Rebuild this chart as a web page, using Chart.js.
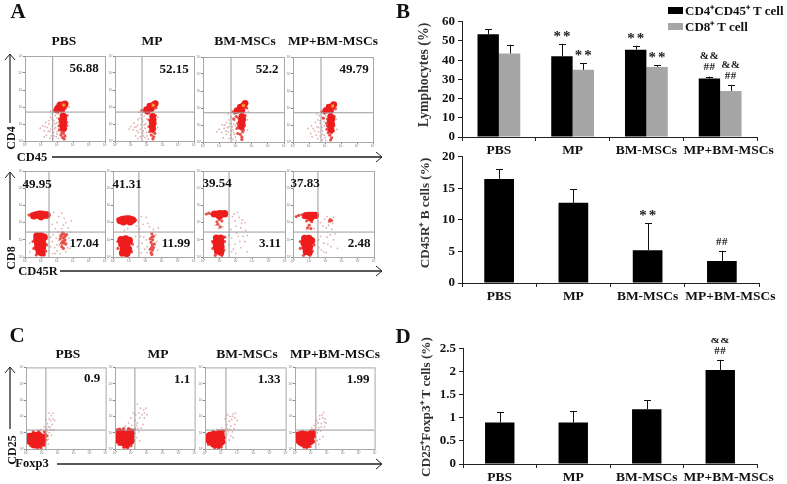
<!DOCTYPE html>
<html>
<head>
<meta charset="utf-8">
<script src="https://cdn.jsdelivr.net/npm/chart.js@4"></script>
<style>
html, body { margin: 0; padding: 0; background: #fff; }
#fig { position: relative; width: 787px; height: 484px; overflow: hidden; font-family: "Liberation Serif", serif; font-weight: bold; color: #111; filter: blur(0.35px); }
#fig canvas { position: absolute; }
#fig svg { position: absolute; left: 0; top: 0; }
.t { position: absolute; white-space: nowrap; transform: translate(-50%, -50%); line-height: 1; }
.v { transform: translate(-50%, -50%) rotate(-90deg); }
.box { position: absolute; }
</style>
</head>
<body>
<div id="fig"></div>
<script>
// bar chart data
var groups = ['PBS', 'MP', 'BM-MSCs', 'MP+BM-MSCs'];
var cd4Values = [53.5, 42, 45.5, 30.5];
var cd4Tops = [56, 48.5, 47.5, 31.5];
var cd8Values = [43.5, 35, 36.5, 24];
var cd8Tops = [48, 38.5, 37.5, 27];
var cd4Marks = [[], ['**'], ['**'], ['##', '&&']];
var cd8Marks = [[], ['**'], ['**'], ['##', '&&']];
var bValues = [16.5, 12.7, 5.2, 3.5];
var bTops = [18, 14.9, 9.5, 5.1];
var bMarks = [[], [], ['**'], ['##']];
var tregValues = [0.9, 0.9, 1.19, 2.04];
var tregTops = [1.12, 1.14, 1.38, 2.26];
var tregMarks = [[], [], [], ['##', '&&']];

// percentages printed in the flow plots
var cd4Pct = ['56.88', '52.15', '52.2', '49.79'];
var cd8Pct = ['49.95', '41.31', '39.54', '37.83'];
var cd45rPct = ['17.04', '11.99', '3.11', '2.48'];
var cd25Pct = ['0.9', '1.1', '1.33', '1.99'];

// flow plots, log decades
var a1Core = [[2.06,1.94],[2.19,2.12],[2.38,2.12],[2.5,2.18],[2.31,1.88],[2.0,1.82],[2.38,1.47],[2.42,1.3],[2.34,1.2],[2.4,1.05],[2.36,.9],[2.4,.75]];
var a1Mid = [[1.85,1.8],[2.55,1.95],[2.45,.6],[2.4,.45],[2.5,.3],[2.3,.5],[2.15,1.3],[2.6,1.5],[2.15,.9],[2.6,1.1],[2.35,.2],[2.45,.12],[2.15,.65],[2.55,.7],[2.2,1.1],[2.58,.9],[2.25,.35]];
var a1Dust = [[1.7,1.6],[1.6,1.4],[1.9,1.5],[1.5,1.2],[1.3,1.1],[1.8,1.2],[2.0,1.35],[1.1,.9],[1.4,.8],[1.7,.9],[1.9,.8],[1.2,.6],[1.55,.55],[1.8,.5],[2.0,.55],[1.65,.3],[1.95,.25],[2.1,.15],[1.35,.35],[.95,.75],[1.75,.12],[2.7,.9],[2.7,1.5],[2.75,2.0],[1.6,1.75],[2.1,1.6],[1.5,1.0],[1.85,1.0],[2.05,1.1],[1.25,.85],[1.45,.6],[1.6,.7],[1.85,.7],[1.95,1.05],[1.7,1.3],[1.55,.15],[1.2,.25],[1.8,.3],[2.0,.4],[2.05,.85]];
var a2Core = [[2.0,1.85],[2.2,2.05],[2.4,2.1],[2.55,2.2],[2.3,1.9],[2.05,1.75],[2.38,1.45],[2.42,1.25],[2.35,1.15],[2.4,1.0],[2.36,.85],[2.38,.7]];
var a2Mid = [[1.8,1.75],[1.7,1.8],[2.6,1.95],[2.4,.55],[2.3,.35],[2.45,.25],[2.15,1.25],[2.55,1.5],[2.15,.85],[2.55,1.05],[2.4,.12],[2.2,.55],[2.5,.75],[2.25,1.05],[2.52,.45]];
var a2Dust = [[1.65,1.55],[1.55,1.35],[1.85,1.45],[1.45,1.25],[1.2,1.05],[1.75,1.15],[2.0,1.3],[1.0,.85],[1.35,.85],[1.65,.95],[1.9,.75],[1.15,.65],[1.5,.5],[1.75,.45],[2.0,.5],[1.6,.25],[1.9,.2],[2.1,.12],[1.3,.3],[.9,.7],[2.7,.8],[2.72,1.4],[1.5,1.7],[2.05,1.55],[1.45,.95],[1.85,.95],[1.25,.8],[1.4,.6],[1.6,.7],[1.8,.6],[1.95,1.0],[1.7,1.3],[1.45,.15],[1.8,.3],[2.02,.3]];
var a3Core = [[2.1,1.85],[2.3,2.05],[2.5,2.15],[2.6,2.28],[2.4,1.85],[2.4,1.5],[2.46,1.32],[2.36,1.22],[2.42,1.05],[2.36,.9]];
var a3Mid = [[1.85,1.78],[1.95,1.7],[2.7,2.0],[2.38,.75],[2.45,.6],[2.3,.45],[2.4,.3],[2.15,1.1],[2.6,1.55],[2.1,.8],[2.55,.95],[2.4,.15],[2.15,.5],[2.5,.7],[1.9,1.35],[2.2,1.4],[2.2,.95],[2.05,1.5]];
var a3Dust = [[1.7,1.5],[1.6,1.3],[1.8,1.4],[1.45,1.15],[1.2,1.0],[1.75,1.1],[1.95,1.25],[1.0,.75],[1.3,.8],[1.6,.9],[1.85,.7],[1.15,.55],[1.45,.45],[1.7,.4],[1.95,.45],[1.6,.2],[1.85,.15],[2.05,.08],[1.25,.25],[.85,.6],[2.75,.7],[2.75,1.3],[2.8,1.8],[1.55,1.65],[2.1,1.5],[1.5,.85],[1.8,.9],[1.75,.65],[2.0,.95],[1.4,.65],[1.55,.6],[1.9,.55],[2.0,.3],[1.75,.25],[1.35,1.0],[1.9,1.05],[1.65,1.1]];
var a4Core = [[2.05,1.85],[2.25,2.05],[2.45,2.1],[2.55,2.2],[2.35,1.85],[2.35,1.5],[2.44,1.35],[2.33,1.2],[2.42,1.05],[2.34,.9],[2.38,.72]];
var a4Mid = [[1.8,1.78],[1.95,1.7],[2.65,1.95],[2.4,.55],[2.3,.4],[2.42,.25],[2.1,1.1],[2.58,1.5],[2.12,.75],[2.55,.95],[2.35,.12],[2.2,.55],[2.52,.65],[1.9,1.4],[2.15,1.35],[2.15,.95]];
var a4Dust = [[1.65,1.55],[1.55,1.3],[1.8,1.45],[1.4,1.15],[1.15,.95],[1.7,1.1],[1.95,1.2],[.95,.8],[1.25,.8],[1.6,.85],[1.85,.65],[1.1,.5],[1.45,.4],[1.7,.35],[1.95,.4],[1.55,.2],[1.85,.12],[2.05,.1],[1.2,.3],[2.75,.75],[2.72,1.35],[1.5,1.65],[2.05,1.55],[1.5,.9],[1.8,.85],[1.35,.65],[1.6,.6],[1.85,.45],[2.0,.25],[1.95,.95],[1.7,1.25]];
var hotSpots = [[2.42,2.12],[2.42,2.1],[2.5,2.15],[2.48,2.12]];

var b1Core = [[.56,2.4],[.69,2.44],[.88,2.48],[1.06,2.48],[1.25,2.44],[1.36,2.44],[1.0,2.35],[.75,1.22],[1.0,1.22],[1.19,1.15],[.75,1.0],[1.05,1.0],[.8,.78],[1.1,.78],[.8,.55],[1.08,.55],[.9,.32],[1.05,.25]];
var b1Mid = [[.25,2.44],[.38,2.5],[.44,2.33],[1.5,2.45],[2.3,1.3],[2.4,1.1],[2.5,1.2],[2.35,.9],[2.45,.8],[2.3,.6],[2.5,1.0],[2.2,1.05],[2.4,.5],[2.6,1.3],[2.35,1.4],[2.45,.95],[.5,.9],[1.35,.7],[.55,.5],[1.3,.35],[.7,.12],[1.2,.12],[2.28,.8],[2.55,.75],[2.42,1.35],[2.25,1.2]];
var b1Dust = [[1.7,.9],[1.85,.55],[1.95,1.1],[2.0,.35],[2.15,.7],[2.15,1.3],[2.6,.8],[2.75,1.1],[2.8,.5],[2.55,.3],[2.2,.2],[1.75,.2],[1.75,1.3],[2.0,2.0],[2.1,2.35],[2.3,2.55],[2.55,2.0],[2.7,1.7],[1.8,2.6],[2.4,1.85],[1.9,1.65],[2.3,1.65],[2.85,1.45],[2.9,2.1],[.3,.8],[.3,.3],[1.6,.6],[1.6,1.15],[2.0,.7],[2.1,.95],[1.9,.2],[2.65,.55],[2.05,1.45],[2.45,2.25],[1.7,1.9]];
var b2Core = [[.45,2.12],[.6,2.18],[.8,2.2],[1.0,2.2],[1.2,2.15],[.65,2.05],[1.05,2.05],[.5,1.0],[.78,1.05],[1.0,.95],[.55,.75],[.85,.72],[.65,.48],[.95,.45],[.85,.22],[.6,.25]];
var b2Mid = [[.3,2.2],[.35,2.05],[1.4,2.15],[.3,.9],[1.2,.75],[.3,.5],[1.15,.3],[.5,.12],[2.4,1.35],[2.4,1.15],[2.45,1.0],[2.35,.85],[2.42,.7],[2.38,.55],[2.45,.4],[2.35,.25],[2.5,1.2],[2.3,1.05],[2.55,.75],[2.3,.45],[2.5,.55],[2.4,.15]];
var b2Dust = [[1.7,1.2],[1.8,.8],[1.95,.45],[2.05,1.0],[2.1,.25],[2.7,.9],[2.75,.4],[2.65,1.3],[1.75,.25],[1.65,1.65],[1.85,1.9],[2.05,2.3],[2.25,1.75],[2.5,1.6],[1.5,.6],[1.4,1.2],[1.55,2.05],[2.8,1.7],[.9,1.65],[.7,1.55],[1.9,1.15],[2.1,.6],[1.75,2.35],[2.15,1.95],[1.45,1.8]];
var b3Core = [[.7,2.5],[.9,2.5],[1.05,2.52],[1.2,2.5],[1.32,2.52],[1.0,2.38],[.82,1.1],[1.08,1.1],[.78,.85],[1.08,.85],[.82,.6],[1.1,.6],[.88,.35],[1.08,.28]];
var b3Mid = [[.2,2.5],[.35,2.55],[.5,2.5],[.6,2.42],[1.4,2.4],[1.0,2.18],[.85,2.05],[1.15,2.1],[.58,.9],[1.32,.9],[.6,.5],[1.28,.4],[.75,.1],[1.15,.1],[1.32,1.15],[.9,1.9],[1.05,1.75]];
var b3Dust = [[1.8,2.35],[1.95,2.1],[2.2,2.3],[2.4,2.15],[2.55,2.0],[2.0,1.8],[2.3,1.7],[1.7,1.6],[2.6,1.55],[1.75,1.1],[1.95,.75],[2.15,1.2],[2.3,.55],[2.55,.9],[2.7,.3],[1.75,.3],[2.0,.2],[.95,1.65],[1.2,1.75],[.75,1.85],[1.85,.45],[2.45,1.2],[2.1,2.6],[2.7,1.25],[2.25,.9],[1.6,.7],[2.05,1.4],[2.35,1.95],[1.9,2.5],[1.6,1.25]];
var b4Core = [[.8,2.4],[.95,2.42],[1.1,2.42],[1.25,2.42],[1.38,2.42],[1.1,2.28],[.72,1.08],[.98,1.08],[.68,.82],[.98,.82],[1.15,.95],[.75,.58],[1.02,.58],[.82,.32],[1.0,.28]];
var b4Mid = [[.2,2.35],[.35,2.42],[.55,2.45],[.65,2.3],[.85,2.1],[1.15,2.05],[1.0,1.85],[.45,.9],[1.3,.7],[.45,.5],[1.2,.35],[.65,.1],[1.05,.1],[2.3,2.18],[2.38,2.12],[2.25,2.08],[.9,1.7],[1.1,1.65]];
var b4Dust = [[1.7,2.0],[1.85,1.8],[2.05,1.7],[2.2,1.85],[2.5,2.3],[2.1,2.35],[2.4,1.6],[1.7,1.2],[1.9,.8],[2.1,1.15],[2.35,.6],[2.5,1.0],[1.75,.4],[2.05,.25],[1.3,1.65],[.85,1.6],[1.9,.3],[2.3,1.3],[2.6,1.35],[2.75,.5],[1.6,.55],[2.15,.75],[1.6,1.0],[2.45,1.95],[1.95,2.2]];

var c1Core = [[.28,.5],[.28,.72],[.52,.3],[.52,.52],[.52,.78],[.78,.3],[.78,.55],[.78,.8],[.98,.42],[.98,.68]];
var c1Mid = [[.07,.4],[.07,.7],[.12,.9],[.45,1.05],[.8,1.08],[1.22,.9],[1.25,.55],[.3,.2],[.7,.08],[.95,.08],[1.15,.22],[1.32,.8],[1.15,1.05]];
var c1Dust = [[1.3,1.2],[1.4,.6],[1.45,1.0],[1.5,1.35],[1.35,1.55],[1.55,1.75],[1.65,1.5],[1.45,1.85],[1.6,2.05],[1.7,2.2],[1.25,1.8],[1.75,1.15],[1.6,.85],[1.4,.3],[1.8,1.75],[1.15,1.35],[.95,1.2],[1.4,1.35],[1.55,1.2],[1.45,2.2],[1.7,1.85],[1.3,1.05]];
var c2Core = [[.2,.8],[.2,1.0],[.45,.45],[.45,.7],[.45,.95],[.7,.3],[.7,.55],[.7,.8],[.95,.5],[.95,.75],[.95,1.0],[.22,.58]];
var c2Mid = [[.06,.55],[.06,.9],[.25,.28],[.55,1.25],[.85,1.25],[1.18,.95],[1.16,.55],[.55,.1],[.8,.08],[.3,1.22],[1.2,1.18],[1.0,.2]];
var c2Dust = [[1.3,1.3],[1.35,.7],[1.4,1.6],[1.5,1.05],[1.55,1.9],[1.7,2.1],[1.8,2.4],[1.95,2.5],[1.6,2.5],[1.25,1.75],[1.05,1.45],[.85,1.6],[1.5,2.2],[1.75,1.5],[2.0,2.1],[1.55,.5],[1.0,1.9],[1.4,2.75],[.65,1.4],[1.85,1.9],[1.65,1.3],[1.35,1.45],[1.85,2.2],[1.15,2.2],[1.45,1.25],[1.3,2.1]];
var c3Core = [[.3,.55],[.3,.78],[.55,.35],[.55,.6],[.55,.85],[.8,.3],[.8,.55],[.8,.8],[.98,.45],[.98,.7],[.95,.92]];
var c3Mid = [[.08,.5],[.08,.75],[.22,.28],[.5,1.06],[.8,1.08],[1.16,1.12],[1.2,.7],[1.18,.4],[.6,.08],[.85,.08],[1.02,.12]];
var c3Dust = [[1.35,.9],[1.4,1.25],[1.35,1.5],[1.5,1.7],[1.6,1.4],[1.55,2.0],[1.75,2.15],[1.85,1.9],[1.7,1.05],[1.5,.55],[1.85,1.5],[1.25,1.85],[1.65,1.8],[1.9,2.2],[1.05,1.3],[1.75,.7],[.75,1.2],[2.0,1.75],[1.45,1.05],[1.55,1.2],[1.8,1.25],[1.4,2.1],[1.6,.8],[1.7,2.0]];
var c4Core = [[.2,.6],[.2,.8],[.45,.4],[.45,.65],[.45,.88],[.7,.3],[.7,.55],[.7,.8],[.95,.5],[.95,.75],[1.05,.92]];
var c4Mid = [[.05,.55],[.05,.8],[.22,.35],[.4,1.02],[.7,1.04],[1.2,1.12],[1.24,.75],[1.18,.45],[.55,.12],[.75,.1],[.95,.15]];
var c4Dust = [[1.4,1.0],[1.5,1.3],[1.45,1.6],[1.55,1.85],[1.65,1.55],[1.7,2.1],[1.8,2.25],[1.9,1.85],[1.6,1.1],[1.55,.6],[1.85,1.35],[1.35,1.75],[1.2,1.45],[1.75,.75],[1.95,1.6],[1.5,.3],[1.05,1.3],[1.75,1.9],[1.45,1.15],[1.65,1.35],[1.55,2.05],[1.85,1.65],[1.4,.5]];

var decades = ['10⁰', '10¹', '10²', '10³', '10⁴', '10⁵'];
var fig = document.getElementById('fig');

function addCanvas(left, top, w, h) {
  var c = document.createElement('canvas');
  c.width = w;
  c.height = h;
  c.style.width = w + 'px';
  c.style.height = h + 'px';
  c.style.left = left + 'px';
  c.style.top = top + 'px';
  fig.appendChild(c);
  return c;
}

function addText(text, x, y, size, rotated, color) {
  var d = document.createElement('div');
  d.className = rotated ? 't v' : 't';
  d.textContent = text;
  d.style.left = x + 'px';
  d.style.top = y + 'px';
  d.style.fontSize = size + 'px';
  if (color) d.style.color = color;
  fig.appendChild(d);
}

function pairs(list) {
  return list.map(function(p) { return {x: p[0], y: p[1]}; });
}

function flowPlot(left, top, w, h, coreR, core, mid, dust, gateX, gateY, hot) {
  var sets = [
    {data: [{x: gateX, y: 0}, {x: gateX, y: 5}], showLine: true, borderColor: '#9a9a9a', borderWidth: 1, pointRadius: 0},
    {data: [{x: 0, y: gateY}, {x: 5, y: gateY}], showLine: true, borderColor: '#9a9a9a', borderWidth: 1, pointRadius: 0}
  ];
  if (hot) sets.push({data: pairs(hot), pointRadius: 1.7, pointBorderWidth: 0, pointBackgroundColor: '#f39a2a'});
  sets.push({data: pairs(core), pointRadius: coreR, pointBorderWidth: 0, pointBackgroundColor: '#ee1d1d'});
  sets.push({data: pairs(mid), pointRadius: 1.6, pointBorderWidth: 0, pointBackgroundColor: '#e8504a'});
  sets.push({data: pairs(dust), pointRadius: 0.9, pointBorderWidth: 0, pointBackgroundColor: '#deb0b0'});

  var tickOpts = {stepSize: 1, font: {size: 3, family: 'Liberation Sans'}, color: '#777', padding: 0, maxRotation: 0, autoSkip: false,
    callback: function(v) { return decades[v]; }};
  new Chart(addCanvas(left - 9, top - 4, w + 13, h + 11), {
    type: 'scatter',
    data: {datasets: sets},
    options: {
      responsive: false,
      animation: false,
      layout: {padding: {top: 4, right: 4, left: 0, bottom: 0}},
      plugins: {legend: {display: false}, tooltip: {enabled: false}},
      scales: {
        x: {min: 0, max: 5, ticks: tickOpts, border: {color: '#a8a8a8'},
          grid: {drawOnChartArea: false, tickLength: 2, color: '#888'},
          afterFit: function(s) { s.height = 7; }},
        y: {min: 0, max: 5, ticks: tickOpts, border: {color: '#a8a8a8'},
          grid: {drawOnChartArea: false, tickLength: 2, color: '#888'},
          afterFit: function(s) { s.width = 9; }}
      }
    },
    plugins: [{
      id: 'frame',
      afterDraw: function(chart) {
        var a = chart.chartArea, g = chart.ctx;
        g.save();
        g.strokeStyle = '#a8a8a8';
        g.strokeRect(a.left + .5, a.top + .5, a.width, a.height);
        g.restore();
      }
    }]
  });
}

// error whiskers and significance marks are placed from the y scale
var whiskers = {
  id: 'whiskers',
  afterDatasetsDraw: function(chart) {
    var g = chart.ctx, ys = chart.scales.y;
    chart.data.datasets.forEach(function(ds, i) {
      chart.getDatasetMeta(i).data.forEach(function(bar, k) {
        var top = ys.getPixelForValue(ds.tops[k]);
        g.save();
        g.strokeStyle = '#111';
        g.lineWidth = 1;
        g.beginPath();
        g.moveTo(Math.round(bar.x) + .5, bar.y);
        g.lineTo(Math.round(bar.x) + .5, top);
        g.moveTo(Math.round(bar.x) - 3, Math.round(top) + .5);
        g.lineTo(Math.round(bar.x) + 4, Math.round(top) + .5);
        g.stroke();
        g.fillStyle = '#222';
        g.textAlign = 'center';
        g.textBaseline = 'middle';
        ds.marks[k].forEach(function(m, n) {
          if (m === '**') {
            g.font = 'bold 15px "Liberation Serif"';
            g.letterSpacing = '2px';
            g.fillText(m, bar.x + 1, top - 7);
          } else {
            g.font = 'bold 11px "Liberation Serif"';
            g.letterSpacing = '0.5px';
            g.fillText(m, bar.x, top - 9 - n * 11);
          }
        });
        g.restore();
      });
    });
  }
};

function barPlot(left, top, w, h, axisW, max, step, sets) {
  var yTicks = {stepSize: step, font: {size: 13, weight: 'bold', family: 'Liberation Serif'}, color: '#111', padding: 3,
    callback: function(v) { return String(v); }};
  var padRight = 34;
  new Chart(addCanvas(left - axisW, top - 10, axisW + w + padRight, h + 10 + 26), {
    type: 'bar',
    data: {labels: groups, datasets: sets},
    options: {
      responsive: false,
      animation: false,
      layout: {padding: {top: 10, right: padRight, left: 0, bottom: 0}},
      plugins: {legend: {display: false}, tooltip: {enabled: false}},
      scales: {
        x: {
          ticks: {font: {size: 13.5, weight: 'bold', family: 'Liberation Serif'}, color: '#111', padding: 1, maxRotation: 0, minRotation: 0, autoSkip: false,
            callback: function(v, i) { return (i === 3 ? '\u00a0\u00a0\u00a0\u00a0\u00a0' : '') + groups[i]; }},
          border: {color: '#222'},
          grid: {offset: true, drawOnChartArea: false, tickLength: 4, color: '#222'},
          afterFit: function(s) { s.height = 26; }
        },
        y: {
          min: 0, max: max,
          ticks: yTicks,
          border: {color: '#222'},
          grid: {drawOnChartArea: false, tickLength: 4, color: '#222'},
          afterFit: function(s) { s.width = axisW; }
        }
      }
    },
    plugins: [whiskers]
  });
}

function arrow(parts, x1, y1, x2, y2, color, width) {
  var head = x1 === x2
    ? 'M' + (x2 - 5) + ' ' + (y2 + 6) + 'L' + x2 + ' ' + y2 + 'L' + (x2 + 5) + ' ' + (y2 + 6)
    : 'M' + (x2 - 6) + ' ' + (y2 - 5) + 'L' + x2 + ' ' + y2 + 'L' + (x2 - 6) + ' ' + (y2 + 5);
  parts.push('<path d="M' + x1 + ' ' + y1 + 'L' + x2 + ' ' + y2 + '" stroke="' + color + '" stroke-width="' + width + '" fill="none"/>');
  parts.push('<path d="' + head + '" stroke="#222" stroke-width="1" fill="none"/>');
}

// A: CD4 / CD45
flowPlot(25, 56, 80, 85, 3.5, a1Core, a1Mid, a1Dust, 1.73, 1.7, [hotSpots[0]]);
flowPlot(115, 56, 79, 85, 3.3, a2Core, a2Mid, a2Dust, 1.71, 1.7, [hotSpots[1]]);
flowPlot(203, 57, 81, 85, 3.3, a3Core, a3Mid, a3Dust, 1.73, 1.72, [hotSpots[2]]);
flowPlot(293, 57, 80, 85, 3.3, a4Core, a4Mid, a4Dust, 1.75, 1.72, [hotSpots[3]]);
// A: CD8 / CD45R
flowPlot(25, 171, 80, 86, 3.8, b1Core, b1Mid, b1Dust, 1.5, 1.45);
flowPlot(113, 171, 81, 86, 3.8, b2Core, b2Mid, b2Dust, 1.6, 1.45);
flowPlot(203, 171, 82, 86, 3.6, b3Core, b3Mid, b3Dust, 1.59, 1.45);
flowPlot(293, 171, 81, 86, 3.6, b4Core, b4Mid, b4Dust, 1.54, 1.45);
// C: CD25 / Foxp3
flowPlot(26, 367, 80, 82, 4.4, c1Core, c1Mid, c1Dust, 1.25, 1.16);
flowPlot(115, 367, 80, 82, 4.4, c2Core, c2Mid, c2Dust, 1.25, 1.16);
flowPlot(205, 367, 81, 82, 4.4, c3Core, c3Mid, c3Dust, 1.3, 1.16);
flowPlot(295, 367, 80, 82, 4.4, c4Core, c4Mid, c4Dust, 1.31, 1.16);

// B and D
barPlot(462, 21, 295, 116, 44, 60, 10, [
  {data: cd4Values, tops: cd4Tops, marks: cd4Marks, backgroundColor: '#000', categoryPercentage: 0.58, barPercentage: 1},
  {data: cd8Values, tops: cd8Tops, marks: cd8Marks, backgroundColor: '#a6a6a6', categoryPercentage: 0.58, barPercentage: 1}
]);
barPlot(462, 156, 297, 127, 44, 20, 5, [
  {data: bValues, tops: bTops, marks: bMarks, backgroundColor: '#000', categoryPercentage: 0.4, barPercentage: 1}
]);
barPlot(463, 348, 294, 116, 44, 2.5, 0.5, [
  {data: tregValues, tops: tregTops, marks: tregMarks, backgroundColor: '#000', categoryPercentage: 0.4, barPercentage: 1}
]);
addText('Lymphocytes (%)', 424, 75, 13.8, true, '#333');
addText('CD45R⁺ B cells (%)', 425, 213, 13.2, true, '#333');
addText('CD25⁺Foxp3⁺ T cells (%)', 426, 407, 13.2, true, '#333');

// legend
[['CD4⁺CD45⁺ T cell', '#000', 10], ['CD8⁺ T cell', '#a6a6a6', 26]].forEach(function(row) {
  var b = document.createElement('div');
  b.className = 'box';
  b.style.cssText = 'left:668px;width:15px;height:7px;background:' + row[1] + ';top:' + (row[2] - 3) + 'px';
  fig.appendChild(b);
  var d = document.createElement('div');
  d.className = 't';
  d.textContent = row[0];
  d.style.cssText = 'left:685px;top:' + row[2] + 'px;font-size:13px;transform:translate(0,-50%)';
  fig.appendChild(d);
});

// panel letters
addText('A', 18, 11, 21);
addText('B', 403, 11, 21);
addText('C', 17, 335, 21);
addText('D', 403, 336, 21);

// column titles over the flow plots
var rowA = [64, 152, 245, 333], rowC = [68, 158, 247, 335];
groups.forEach(function(g, i) {
  addText(g, rowA[i], 41, 13.5);
  addText(g, rowC[i], 354, 13.5);
});

// percentages
var pctA = [[84, 67], [174, 68], [267, 68], [354, 68]];
var pctB = [[37, 183], [127, 183], [217, 182], [305, 182]];
var pctR = [[84, 242], [176, 242], [270, 242], [359, 242]];
var pctC = [[92, 377], [182, 378], [269, 378], [358, 378]];
cd4Pct.forEach(function(p, i) { addText(p, pctA[i][0], pctA[i][1], 13); });
cd8Pct.forEach(function(p, i) { addText(p, pctB[i][0], pctB[i][1], 13); });
cd45rPct.forEach(function(p, i) { addText(p, pctR[i][0], pctR[i][1], 13); });
cd25Pct.forEach(function(p, i) { addText(p, pctC[i][0], pctC[i][1], 13); });

// axis names and arrows
addText('CD4', 11, 138, 12, true);
addText('CD45', 32, 157, 12.5);
addText('CD8', 11, 258, 12, true);
addText('CD45R', 38, 271, 12.5);
addText('CD25', 12, 450, 12, true);
addText('Foxp3', 32, 463, 12.5);
var parts = [];
arrow(parts, 10, 123, 10, 54, '#222', 1.2);
arrow(parts, 52, 157, 382, 157, '#555', 2);
arrow(parts, 10, 240, 10, 172, '#111', 1.2);
arrow(parts, 60, 271, 382, 271, '#222', 1.4);
arrow(parts, 10, 429, 10, 367, '#111', 1.2);
arrow(parts, 57, 464, 382, 464, '#222', 1.4);
fig.insertAdjacentHTML('beforeend', '<svg width="787" height="484">' + parts.join('') + '</svg>');
</script>
</body>
</html>
